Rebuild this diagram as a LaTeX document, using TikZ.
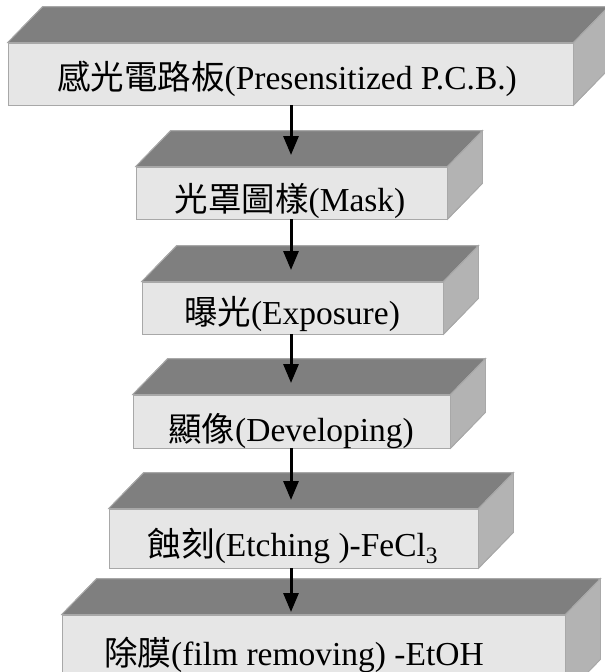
\documentclass[tikz,border=0pt]{standalone}
\usepackage{fontspec}
\setmainfont{Liberation Serif}
\newfontfamily\cjk{Noto Sans CJK TC}
\usetikzlibrary{arrows.meta,calc}
\definecolor{topc}{HTML}{7F7F7F}
\definecolor{frontc}{HTML}{E6E6E6}
\definecolor{sidec}{HTML}{B3B3B3}
\definecolor{edgec}{HTML}{A8A8A8}
\tikzset{
  boxfont/.style={font=\fontsize{33.5}{40}\selectfont, inner sep=0pt},
  frontbox/.style={fill=frontc, draw=edgec, line width=0.8pt, inner sep=0pt},
  topface/.style={fill=topc, draw=edgec, line width=0.8pt},
  sideface/.style={fill=sidec, draw=edgec, line width=0.8pt},
  flowarrow/.style={line width=3pt, -{Triangle[length=19pt,width=15pt]}},
}
\newcommand{\cube}[1]{%
  \fill[topface] (#1.north west) -- ++(35,-36) -- ($(#1.north east)+(35,-36)$) -- (#1.north east) -- cycle;
  \fill[sideface] (#1.north east) -- ++(35,-36) -- ($(#1.south east)+(35,-36)$) -- (#1.south east) -- cycle;
  \draw[topface,fill=none] (#1.north west) -- ++(35,-36) -- ($(#1.north east)+(35,-36)$) -- (#1.north east);
  \draw[sideface,fill=none] ($(#1.north east)+(35,-36)$) -- ($(#1.south east)+(35,-36)$) -- (#1.south east);
}
\begin{document}
\begin{tikzpicture}[x=1pt,y=-1pt]
\useasboundingbox (0,0) rectangle (605,672);
\clip (0,0) rectangle (605,672);
% boxes (front faces)
\node[frontbox, minimum width=565pt, minimum height=62pt] (b1) at (290.5,74) {};
\node[frontbox, minimum width=311pt, minimum height=52pt] (b2) at (291.5,193) {};
\node[frontbox, minimum width=301pt, minimum height=52pt] (b3) at (292.5,308) {};
\node[frontbox, minimum width=317pt, minimum height=53pt] (b4) at (291.5,421.5) {};
\node[frontbox, minimum width=369pt, minimum height=59pt] (b5) at (293.5,538.5) {};
\node[frontbox, minimum width=503pt, minimum height=80pt] (b6) at (313.5,655) {};
\cube{b1}\cube{b2}\cube{b3}\cube{b4}\cube{b5}\cube{b6}
% texts
\node[boxfont] (b1text) at (287,79) {{\cjk 感光電路板}(Presensitized P.C.B.)};
\node[boxfont] (b2text) at (290,201) {{\cjk 光罩圖樣}(Mask)};
\node[boxfont] (b3text) at (292,314) {{\cjk 曝光}(Exposure)};
\node[boxfont] (b4text) at (291,431) {{\cjk 顯像}(Developing)};
\node[boxfont] (b5text) at (293,546) {{\cjk 蝕刻}(Etching )-FeCl\textsubscript{3}};
\node[boxfont] (b6text) at (294,655) {{\cjk 除膜}(film removing) -EtOH};
% arrow ends
\coordinate (t2) at (291,155);
\coordinate (t3) at (291,270);
\coordinate (t4) at (291,383);
\coordinate (t5) at (291,500);
\coordinate (t6) at (291,612);
\draw[flowarrow] (b1.south -| t2) -- (t2);
\draw[flowarrow] (b2.south -| t3) -- (t3);
\draw[flowarrow] (b3.south -| t4) -- (t4);
\draw[flowarrow] (b4.south -| t5) -- (t5);
\draw[flowarrow] (b5.south -| t6) -- (t6);
\end{tikzpicture}
\end{document}
